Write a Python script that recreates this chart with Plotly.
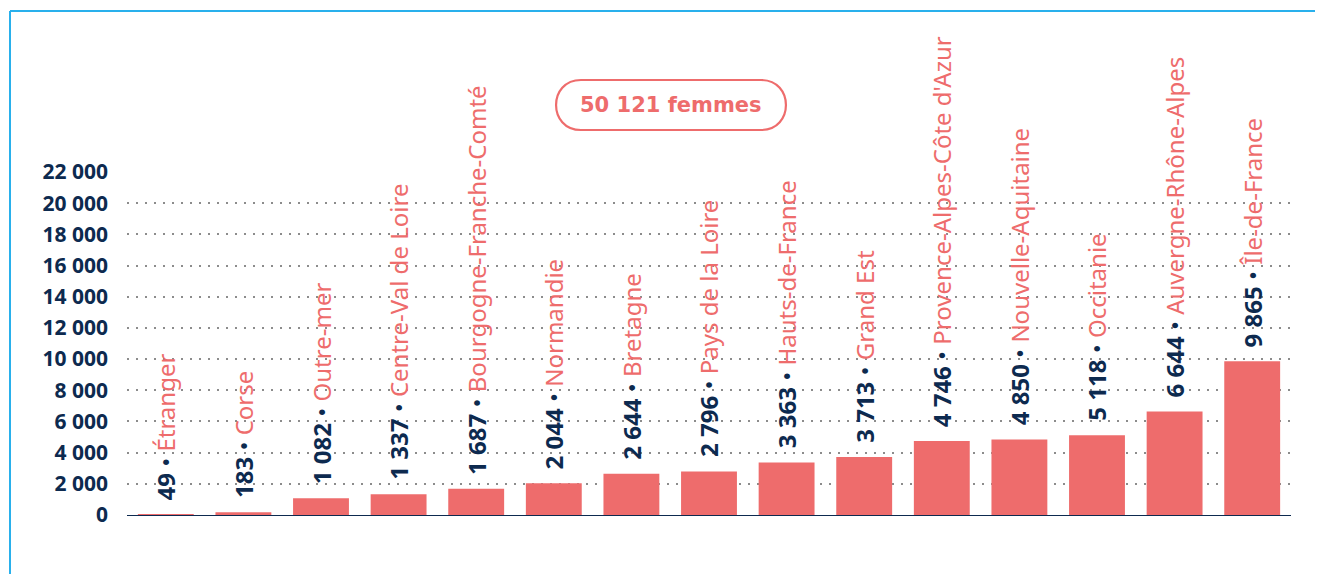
import plotly.graph_objects as go

regions = ["Étranger", "Corse", "Outre-mer", "Centre-Val de Loire", "Bourgogne-Franche-Comté",
           "Normandie", "Bretagne", "Pays de la Loire", "Hauts-de-France", "Grand Est",
           "Provence-Alpes-Côte d'Azur", "Nouvelle-Aquitaine", "Occitanie",
           "Auvergne-Rhône-Alpes", "Île-de-France"]
values = [49, 183, 1082, 1337, 1687, 2044, 2644, 2796, 3363, 3713, 4746, 4850, 5118, 6644, 9865]
tick_vals = [0, 2000, 4000, 6000, 8000, 10000, 12000, 14000, 16000, 18000, 20000, 22000]
tick_text = ["0", "2 000", "4 000", "6 000", "8 000", "10 000", "12 000", "14 000",
             "16 000", "18 000", "20 000", "22 000"]
title_text = "50 121 femmes"

SALMON = "#ee6c6c"
NAVY = "#0d2a4f"
BLUE = "#29b0ec"
OFF = 8  # page body margin offset
W, H = 1323 - OFF, 574 - OFF
# plot area in reference pixels: x 127..1291, y 172..515
ML, MT = 127 - OFF, 172 - OFF
MR = W - (1291 - OFF)
MB = H - (515 - OFF)
PW, PH = W - ML - MR, H - MT - MB


def fmt(v):
    return f"{v:,}".replace(",", " ")


def px_x(p):  # reference pixel -> paper
    return (p - OFF - ML) / PW


def px_y(p):
    return (H - MB - (p - OFF)) / PH


fig = go.Figure()
fig.add_trace(go.Bar(x=regions, y=values, marker_color=SALMON, marker_line_width=0,
                     hoverinfo="x+y"))

annotations = []
for r, v in zip(regions, values):
    annotations.append(dict(
        x=r, y=v, xref="x", yref="y", textangle=-90, showarrow=False,
        xanchor="center", yanchor="bottom", yshift=12,
        text=f"<span style='color:{NAVY}'><b>{fmt(v)}</b> •</span> {r}",
        font=dict(family="Noto Sans", size=24, color=SALMON),
    ))

annotations.append(dict(
    x=px_x(671), y=px_y(105), xref="paper", yref="paper", showarrow=False,
    xanchor="center", yanchor="middle",
    text=f"<b>{title_text}</b>",
    font=dict(family="DejaVu Sans", size=21, color=SALMON),
))

# rounded pill around title
x0, x1, y0, y1, rad = 556, 786, 80, 130, 25
path = (f"M {px_x(x0+rad)},{px_y(y0)} L {px_x(x1-rad)},{px_y(y0)} "
        f"C {px_x(x1+rad*0.33)},{px_y(y0)} {px_x(x1+rad*0.33)},{px_y(y1)} {px_x(x1-rad)},{px_y(y1)} "
        f"L {px_x(x0+rad)},{px_y(y1)} "
        f"C {px_x(x0-rad*0.33)},{px_y(y1)} {px_x(x0-rad*0.33)},{px_y(y0)} {px_x(x0+rad)},{px_y(y0)} Z")
shapes = [
    dict(type="path", xref="paper", yref="paper", path=path,
         line=dict(color=SALMON, width=2.2)),
    dict(type="line", xref="paper", yref="paper", x0=px_x(10), x1=px_x(1330),
         y0=px_y(11), y1=px_y(11), line=dict(color=BLUE, width=2)),
    dict(type="line", xref="paper", yref="paper", x0=px_x(10), x1=px_x(10),
         y0=px_y(11), y1=px_y(580), line=dict(color=BLUE, width=2)),
]

fig.update_layout(
    width=W, height=H,
    margin=dict(l=ML, r=MR, t=MT, b=MB),
    paper_bgcolor="white", plot_bgcolor="white",
    bargap=0.28, showlegend=False,
    annotations=annotations, shapes=shapes,
    xaxis=dict(showticklabels=False, showgrid=False, ticks="", showline=True,
               linecolor=NAVY, linewidth=1, range=[-0.5, 14.5]),
    yaxis=dict(range=[0, 22000], tickvals=tick_vals, ticktext=tick_text,
               showgrid=True, gridcolor="#8c8c8c", griddash="2px,7px", gridwidth=2,
               zeroline=False, ticks="", ticklabelstandoff=18,
               tickfont=dict(family="Noto Sans", size=21, color=NAVY, weight="bold")),
)

fig.write_html("out.html")
